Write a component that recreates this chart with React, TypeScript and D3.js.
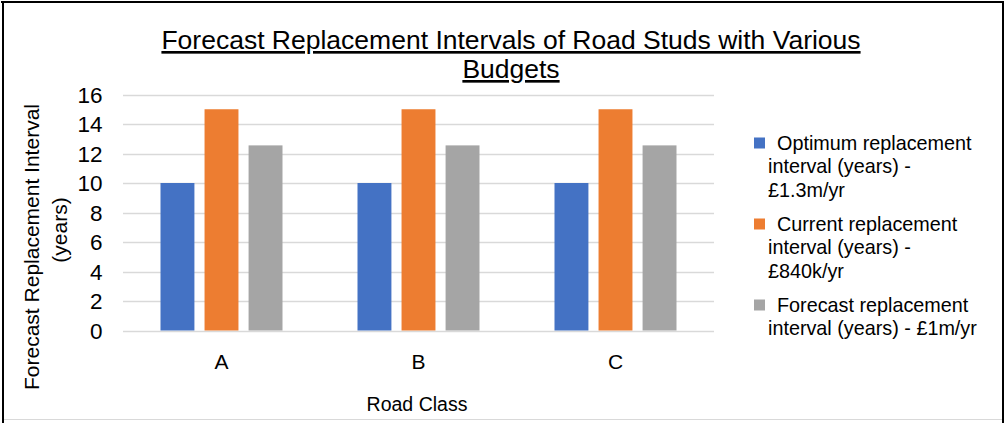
import * as d3 from 'd3'
import { useEffect, useRef } from 'react'

const categories = ['A', 'B', 'C']
const seriesNames = [
  'Optimum replacement interval (years) - £1.3m/yr',
  'Current replacement interval (years) - £840k/yr',
  'Forecast replacement interval (years) - £1m/yr',
]
const optimumValues = [10, 10, 10]
const currentValues = [15, 15, 15]
const forecastValues = [12.55, 12.55, 12.55]
const yTicks = [0, 2, 4, 6, 8, 10, 12, 14, 16]
const legendLines = [
  ['Optimum replacement', 'interval (years) -', '£1.3m/yr'],
  ['Current replacement', 'interval (years) -', '£840k/yr'],
  ['Forecast replacement', 'interval (years) - £1m/yr'],
]
const colors = ['#4472C4', '#ED7D31', '#A5A5A5']

const W = 1007
const H = 423
const FONT = 'Liberation Sans, Arial, sans-serif'

export default function App() {
  const ref = useRef<HTMLDivElement>(null)

  useEffect(() => {
    if (!ref.current) return
    const svg = d3
      .select(ref.current)
      .call((g) => g.select('svg').remove())
      .append('svg')
      .attr('width', W)
      .attr('height', H)
      .style('display', 'block')
      .style('font-family', FONT)

    svg.append('rect').attr('width', W).attr('height', H).attr('fill', '#fff')
    // frame
    svg.append('line').attr('x1', 1).attr('x2', W - 3).attr('y1', 2).attr('y2', 2).attr('stroke', '#000').attr('stroke-width', 2)
    svg.append('line').attr('x1', 3).attr('x2', 3).attr('y1', 1).attr('y2', H).attr('stroke', '#000').attr('stroke-width', 2)
    svg.append('line').attr('x1', W - 4).attr('x2', W - 4).attr('y1', 1).attr('y2', H).attr('stroke', '#000').attr('stroke-width', 2)
    svg.append('line').attr('x1', 4).attr('x2', W - 5).attr('y1', 419.5).attr('y2', 419.5).attr('stroke', '#d9d9d9').attr('stroke-width', 1)

    const left = 123
    const right = 714
    const top = 94.5
    const bottom = 330.5

    const x0 = d3.scaleBand<string>().domain(categories).range([left, right]).padding(0)
    const pad = (x0.bandwidth() - 122) / 2
    const x1 = d3
      .scaleBand<number>()
      .domain([0, 1, 2])
      .range([pad, x0.bandwidth() - pad])
      .paddingInner(0.23)
    const y = d3.scaleLinear().domain([0, 16]).range([bottom, top])

    // gridlines
    svg
      .append('g')
      .selectAll('line')
      .data(yTicks)
      .join('line')
      .attr('x1', left)
      .attr('x2', right)
      .attr('y1', (d) => Math.round(y(d)) + 0.5)
      .attr('y2', (d) => Math.round(y(d)) + 0.5)
      .attr('stroke', '#d9d9d9')
      .attr('stroke-width', 1.5)

    // y tick labels
    svg
      .append('g')
      .selectAll('text')
      .data(yTicks)
      .join('text')
      .attr('x', 102.5)
      .attr('y', (d) => y(d))
      .attr('dy', '0.36em')
      .attr('text-anchor', 'end')
      .attr('font-size', 22.5)
      .attr('fill', '#000')
      .text((d) => d)

    const allSeries = [optimumValues, currentValues, forecastValues]
    allSeries.forEach((vals, si) => {
      svg
        .append('g')
        .selectAll('rect')
        .data(vals)
        .join('rect')
        .attr('x', (_, i) => (x0(categories[i]) ?? 0) + (x1(si) ?? 0))
        .attr('width', x1.bandwidth())
        .attr('y', (d) => y(d))
        .attr('height', (d) => bottom - y(d))
        .attr('fill', colors[si])
    })

    // category labels
    svg
      .append('g')
      .selectAll('text')
      .data(categories)
      .join('text')
      .attr('x', (d) => (x0(d) ?? 0) + x0.bandwidth() / 2)
      .attr('y', 369)
      .attr('text-anchor', 'middle')
      .attr('font-size', 21)
      .text((d) => d)

    svg
      .append('text')
      .attr('x', 417)
      .attr('y', 411)
      .attr('text-anchor', 'middle')
      .attr('font-size', 19.5)
      .text('Road Class')

    // y axis title
    const yt = svg.append('g').attr('font-size', 21).attr('text-anchor', 'middle')
    yt.append('text').attr('transform', 'translate(39,247) rotate(-90)').text('Forecast Replacement Interval')
    yt.append('text').attr('transform', 'translate(67,230) rotate(-90)').text('(years)')

    // title
    const title = svg.append('text').attr('text-anchor', 'middle').attr('font-size', 26.5).attr('text-decoration', 'underline')
    title.append('tspan').attr('x', 511).attr('y', 49).text('Forecast Replacement Intervals of Road Studs with Various')
    title.append('tspan').attr('x', 511).attr('y', 78).text('Budgets')

    // legend
    const itemY = [143, 224, 305]
    legendLines.forEach((lines, i) => {
      const g = svg.append('g').attr('aria-label', seriesNames[i])
      g.append('rect').attr('x', 754).attr('y', itemY[i] - 5.5).attr('width', 11).attr('height', 11).attr('fill', colors[i])
      lines.forEach((ln, j) => {
        g.append('text')
          .attr('x', j === 0 ? 777 : 768)
          .attr('y', itemY[i] + j * 23.5)
          .attr('dy', '0.35em')
          .attr('font-size', 19.8)
          .text(ln)
      })
    })
  }, [])

  return <div ref={ref} style={{ position: 'absolute', left: 0, top: 0 }} />
}
